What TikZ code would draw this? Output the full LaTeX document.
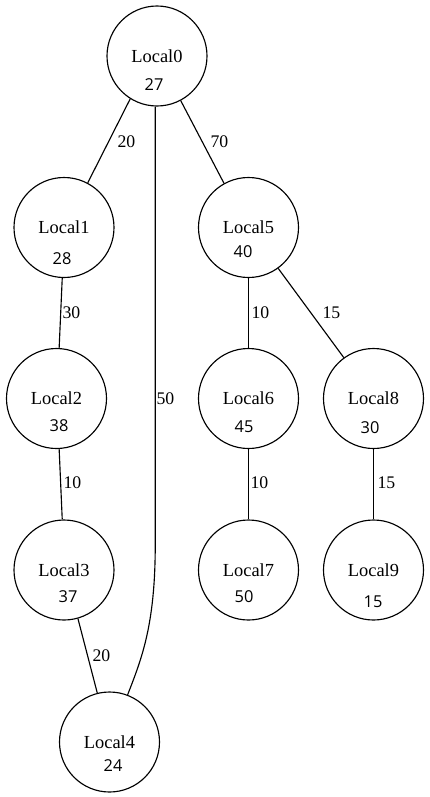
\documentclass[tikz,border=0pt]{standalone}
\usepackage{fontspec}
\setmainfont{Liberation Serif}
\newfontfamily\valfont{Open Sans}
\usetikzlibrary{calc}

\begin{document}
\begin{tikzpicture}[x=0.75pt,y=-0.75pt,line width=0.85pt,
  local/.style={circle,draw,minimum size=75pt,inner sep=0pt,font=\fontsize{13.8}{16}\selectfont},
  val/.style={inner sep=0pt,font=\valfont\fontsize{12.3}{14}\selectfont},
  wt/.style={inner sep=0pt,anchor=west,font=\fontsize{13.3}{15}\selectfont}]
  \useasboundingbox (0,0) rectangle (429,797);
  % locals
  \node[local] (l0) at (157,56) {Local0};
  \node[local] (l1) at (64,227.5) {Local1};
  \node[local] (l2) at (56.5,398.5) {Local2};
  \node[local] (l3) at (64,570) {Local3};
  \node[local] (l4) at (109.5,742) {Local4};
  \node[local] (l5) at (248.5,227.5) {Local5};
  \node[local] (l6) at (248.5,398.5) {Local6};
  \node[local] (l7) at (248.5,570) {Local7};
  \node[local] (l8) at (373.5,398.5) {Local8};
  \node[local] (l9) at (373.5,570) {Local9};
  % values
  \node[val] (v0) at (154,85) {27};
  \node[val] (v1) at (62,259) {28};
  \node[val] (v2) at (59,426) {38};
  \node[val] (v3) at (68,597) {37};
  \node[val] (v4) at (113,766) {24};
  \node[val] (v5) at (243,252) {40};
  \node[val] (v6) at (244,427) {45};
  \node[val] (v7) at (244,597) {50};
  \node[val] (v8) at (370,428) {30};
  \node[val] (v9) at (373,602) {15};
  % edges
  \draw (l0.238) -- (l1.62);
  \draw (l0.298) -- (l5.119);
  \draw (l1.268) -- (l2.87);
  \draw (l2.273) -- (l3.92);
  \draw (l3.286) -- (l4.104);
  \coordinate (bend) at (l0.268 |- 0,545);
  \draw (l0.268) -- (bend) .. controls +(0,80) and +(14,-36) .. (l4.69);
  \draw (l5.270) -- (l6.90);
  \draw (l5.306) -- (l8.126);
  \draw (l6.270) -- (l7.90);
  \draw (l8.270) -- (l9.90);
  % weights
  \node[wt] (w01) at (117,142) {20};
  \node[wt] (w05) at (210,142) {70};
  \node[wt] (w12) at (62,313) {30};
  \node[wt] (w23) at (63,483) {10};
  \node[wt] (w34) at (92,656) {20};
  \node[wt] (w04) at (156,399) {50};
  \node[wt] (w56) at (251,313) {10};
  \node[wt] (w58) at (322,313) {15};
  \node[wt] (w67) at (250,483) {10};
  \node[wt] (w89) at (377,483) {15};
\end{tikzpicture}
\end{document}
